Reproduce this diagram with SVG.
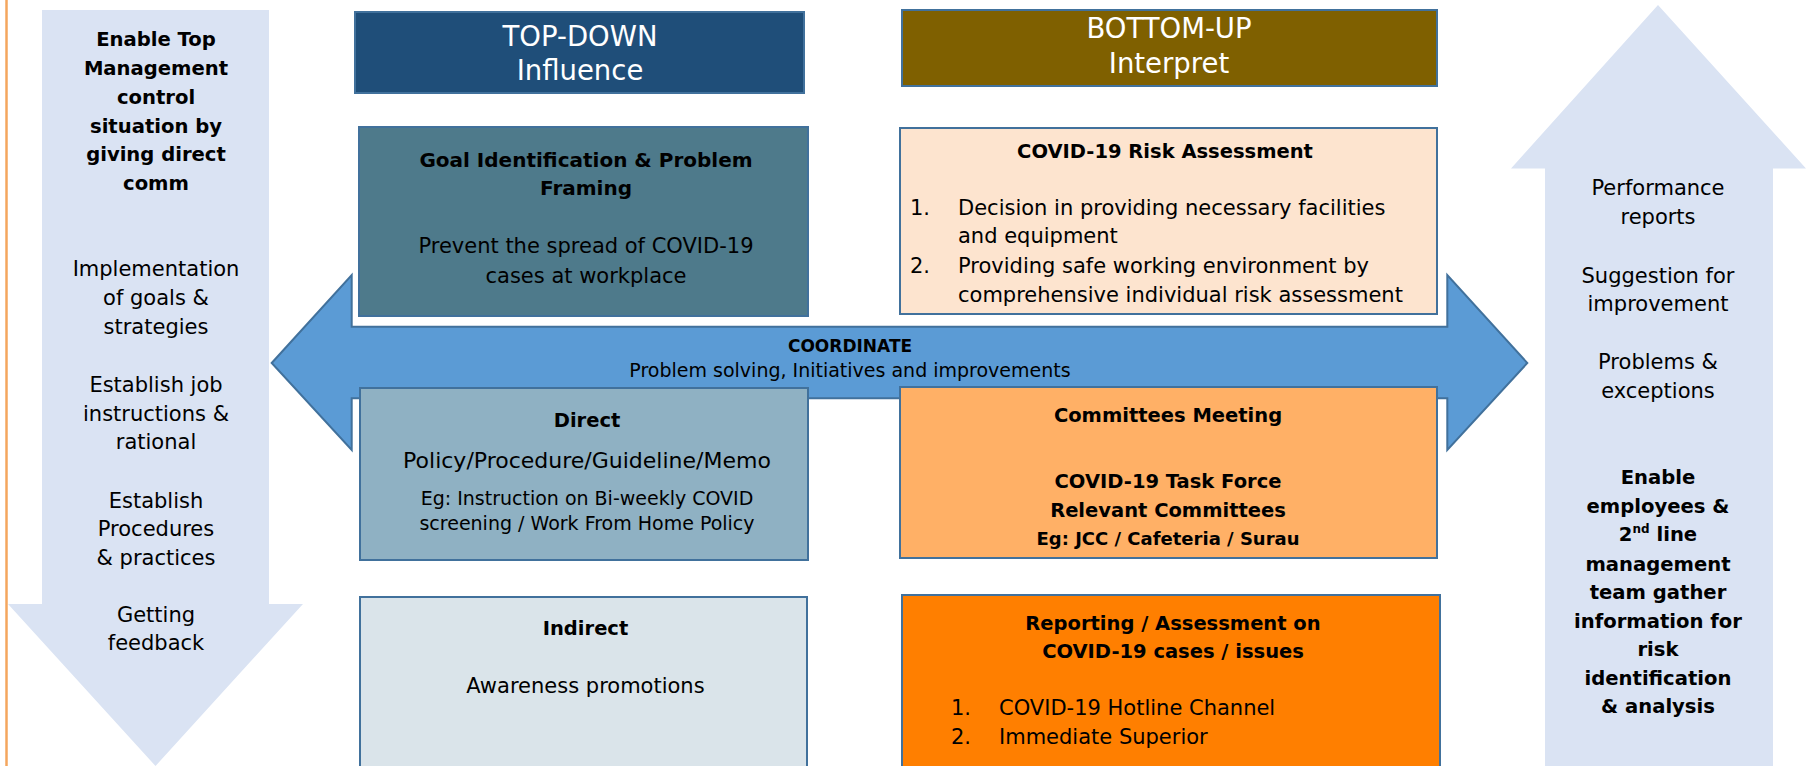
<svg xmlns="http://www.w3.org/2000/svg" width="1816" height="766" viewBox="0 0 1816 766">
<style>
text{font-family:"DejaVu Sans","Liberation Sans",sans-serif;fill:#000}
.b{font-weight:bold}
.side{fill:#DAE3F3}
.box{stroke:#41719C;stroke-width:2}
.t{font-size:21px}
.tb{font-size:19.6px;font-weight:bold}
.w{fill:#fff;font-size:27.5px}
.m{text-anchor:middle}
</style>
<rect width="1816" height="766" fill="#fff"/>
<line x1="6.5" y1="0" x2="6.5" y2="766" stroke="#F4A65E" stroke-width="2.5"/>

<g id="connectors">
<g id="down-arrow">
<polygon class="side" points="42,10 269,10 269,604 303,604 155.5,766 8,604 42,604"/>
<g class="m">
<text class="tb" x="156" y="46">Enable Top</text>
<text class="tb" x="156" y="75">Management</text>
<text class="tb" x="156" y="104">control</text>
<text class="tb" x="156" y="132.5">situation by</text>
<text class="tb" x="156" y="161">giving direct</text>
<text class="tb" x="156" y="190">comm</text>
<text class="t" x="156" y="276">Implementation</text>
<text class="t" x="156" y="305">of goals &amp;</text>
<text class="t" x="156" y="334">strategies</text>
<text class="t" x="156" y="392">Establish job</text>
<text class="t" x="156" y="421">instructions &amp;</text>
<text class="t" x="156" y="449">rational</text>
<text class="t" x="156" y="508">Establish</text>
<text class="t" x="156" y="536">Procedures</text>
<text class="t" x="156" y="565">&amp; practices</text>
<text class="t" x="156" y="622">Getting</text>
<text class="t" x="156" y="650">feedback</text>
</g>
</g>
<g id="up-arrow">
<polygon class="side" points="1658,5 1806,168.5 1773,168.5 1773,766 1545,766 1545,168.5 1511,168.5"/>
<g class="m">
<text class="t" x="1658" y="195">Performance</text>
<text class="t" x="1658" y="224">reports</text>
<text class="t" x="1658" y="283">Suggestion for</text>
<text class="t" x="1658" y="311">improvement</text>
<text class="t" x="1658" y="369">Problems &amp;</text>
<text class="t" x="1658" y="398">exceptions</text>
<text class="tb" x="1658" y="484">Enable</text>
<text class="tb" x="1658" y="513">employees &amp;</text>
<text class="tb" x="1658" y="541">2<tspan font-size="12" dy="-8">nd</tspan><tspan dy="8"> line</tspan></text>
<text class="tb" x="1658" y="571">management</text>
<text class="tb" x="1658" y="599">team gather</text>
<text class="tb" x="1658" y="628">information for</text>
<text class="tb" x="1658" y="656">risk</text>
<text class="tb" x="1658" y="685">identification</text>
<text class="tb" x="1658" y="713">&amp; analysis</text>
</g>
</g>
<g id="coordinate-arrow">
<polygon points="271.7,363 351.7,275 351.7,326.7 1447.3,326.7 1447.3,275 1527.3,363 1447.3,450 1447.3,398.3 351.7,398.3 351.7,450" fill="#5B9BD5" stroke="#41719C" stroke-width="2"/>
<text class="b m" x="850" y="352" font-size="17">COORDINATE</text>
<text class="m" x="850" y="377" font-size="19">Problem solving, Initiatives and improvements</text>
</g>
</g>

<g id="top-down">
<rect class="box" x="355" y="12" width="449" height="81" fill="#1F4E79" stroke-width="2.5"/>
<text class="w m" x="580" y="46">TOP-DOWN</text>
<text class="w m" x="580" y="80">Influence</text>
</g>

<g id="bottom-up">
<rect class="box" x="902" y="10" width="535" height="76" fill="#7F6000" stroke-width="2.5"/>
<text class="w m" x="1169" y="38">BOTTOM-UP</text>
<text class="w m" x="1169" y="73">Interpret</text>
</g>

<g id="goal">
<rect class="box" x="359" y="127" width="449" height="189" fill="#4E7A8B"/>
<text class="b m" x="586" y="167" font-size="20">Goal Identification &amp; Problem</text>
<text class="b m" x="586" y="195" font-size="20">Framing</text>
<text class="t m" x="586" y="253">Prevent the spread of COVID-19</text>
<text class="t m" x="586" y="283">cases at workplace</text>
</g>

<g id="risk">
<rect class="box" x="900" y="128" width="537" height="186" fill="#FDE4CF"/>
<text class="b m" x="1165" y="158" font-size="19.5">COVID-19 Risk Assessment</text>
<text class="t" x="910" y="215">1.</text>
<text class="t" x="958" y="215">Decision in providing necessary facilities</text>
<text class="t" x="958" y="243">and equipment</text>
<text class="t" x="910" y="273">2.</text>
<text class="t" x="958" y="273">Providing safe working environment by</text>
<text class="t" x="958" y="302">comprehensive individual risk assessment</text>
</g>

<g id="direct">
<rect class="box" x="360" y="388" width="448" height="172" fill="#8FB1C3"/>
<text class="b m" x="587" y="427" font-size="19.5">Direct</text>
<text class="m" x="587" y="468" font-size="22">Policy/Procedure/Guideline/Memo</text>
<text class="m" x="587" y="505" font-size="19">Eg: Instruction on Bi-weekly COVID</text>
<text class="m" x="587" y="530" font-size="19">screening / Work From Home Policy</text>
</g>

<g id="committees">
<rect class="box" x="900" y="387" width="537" height="171" fill="#FFB066"/>
<text class="b m" x="1168" y="422" font-size="19.5">Committees Meeting</text>
<text class="b m" x="1168" y="488" font-size="19.5">COVID-19 Task Force</text>
<text class="b m" x="1168" y="517" font-size="19.5">Relevant Committees</text>
<text class="b m" x="1168" y="545" font-size="18">Eg: JCC / Cafeteria / Surau</text>
</g>

<g id="indirect">
<rect class="box" x="360" y="597" width="447" height="180" fill="#DAE4EA"/>
<text class="b m" x="585.5" y="635" font-size="19.5">Indirect</text>
<text class="t m" x="585.5" y="693">Awareness promotions</text>
</g>

<g id="reporting">
<rect class="box" x="902" y="595" width="538" height="182" fill="#FF7F00"/>
<text class="b m" x="1173" y="630" font-size="19.5">Reporting / Assessment on</text>
<text class="b m" x="1173" y="658" font-size="19.5">COVID-19 cases / issues</text>
<text class="t" x="951" y="715">1.</text>
<text class="t" x="999" y="715">COVID-19 Hotline Channel</text>
<text class="t" x="951" y="744">2.</text>
<text class="t" x="999" y="744">Immediate Superior</text>
</g>
</svg>
